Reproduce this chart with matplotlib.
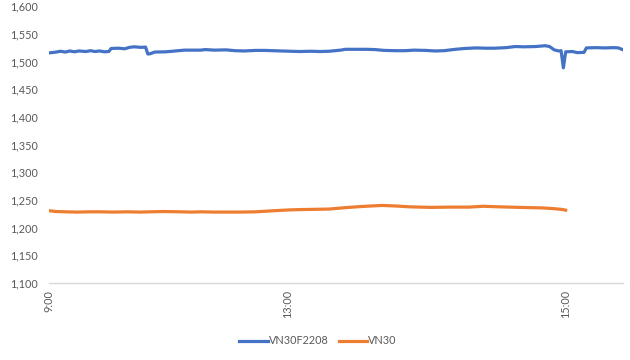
import matplotlib.pyplot as plt
from matplotlib.ticker import FuncFormatter

# category index along the time axis (session order), 9:00 at 0
tick_pos = [0, 104, 225]
tick_labels = ['9:00', '13:00', '15:00']

f_idx = [0, 3, 5, 7, 9, 11, 13, 16, 18, 20, 22, 24, 26, 27, 30, 33, 35, 37, 40, 42,
         43, 44, 46, 51, 55, 59, 66, 68, 72, 77, 81, 85, 90, 94, 101, 105, 109, 114,
         118, 122, 127, 129, 133, 138, 142, 146, 151, 155, 159, 164, 168, 172, 177,
         181, 186, 190, 194, 199, 203, 207, 212, 216, 218, 220, 222, 223, 224, 225,
         228, 230, 233, 234, 238, 242, 246, 248, 250]
vn30f = [1515.5, 1517, 1518.5, 1517, 1519, 1517.5, 1519, 1518, 1519.5, 1518, 1519,
         1517.5, 1518, 1523.5, 1524, 1523, 1525.5, 1526.5, 1525.5, 1526,
         1513.5, 1514, 1517, 1517.5, 1519, 1520.5, 1520.5, 1521.5, 1520.5, 1521,
         1519.5, 1519, 1520, 1520, 1519, 1518.5, 1518, 1518.5, 1518, 1518.5,
         1520.5, 1522, 1522, 1522, 1521.5, 1520, 1519.5, 1519.5, 1520.5, 1520,
         1519, 1519.5, 1522, 1523.5, 1524.5, 1524, 1524, 1525, 1527, 1526.5,
         1527, 1528.5, 1527, 1521, 1519, 1519.5, 1488.5, 1517.5,
         1518, 1516, 1516.5, 1524.5, 1525, 1524.5, 1525, 1524.5, 1521]

s_idx = [0, 3, 7, 12, 18, 22, 28, 34, 40, 44, 50, 57, 62, 66, 72, 78, 83, 90, 94,
         98, 105, 109, 116, 122, 129, 134, 140, 145, 151, 157, 166, 175, 183, 189,
         196, 205, 215, 219, 223, 225]
vn30 = [1230.5, 1229, 1228.5, 1228, 1228.5, 1228.5, 1228, 1228.5, 1228, 1228.5,
        1229, 1228.5, 1228, 1228.5, 1228, 1228, 1228, 1228.5, 1229.5,
        1230.5, 1232, 1232.5, 1233, 1233.5, 1236, 1237.5, 1239, 1240, 1239, 1237.5,
        1236.5, 1237, 1237, 1238.5, 1237.5, 1236.5, 1235.5, 1234.5, 1233, 1231.5]

plt.rcParams['font.family'] = ['Lato', 'DejaVu Sans']
grey = '#595959'

fig = plt.figure(figsize=(6.3, 3.6), dpi=100)
ax = fig.add_axes([0.078, 0.214, 0.911, 0.769])
ax.plot(f_idx, vn30f, color='#4472C4', lw=2.3, label='VN30F2208')
ax.plot(s_idx, vn30, color='#ED7D31', lw=2.3, label='VN30')

ax.set_xlim(0, 250)
ax.set_ylim(1100, 1600)
ax.set_yticks(range(1100, 1601, 50))
ax.yaxis.set_major_formatter(FuncFormatter(lambda v, p: f'{int(v):,}'))
ax.set_xticks(tick_pos)
ax.set_xticklabels(tick_labels, rotation=90, va='top')
ax.tick_params(axis='both', length=0, labelsize=7.8, colors=grey)
ax.tick_params(axis='y', pad=8)
ax.tick_params(axis='x', pad=5)
for s in ['top', 'right', 'left']:
    ax.spines[s].set_visible(False)
ax.spines['bottom'].set_color('#D9D9D9')
ax.spines['bottom'].set_linewidth(1)

fig.legend(loc='center', bbox_to_anchor=(0.505, 0.053), ncol=2, frameon=False,
           fontsize=7.8, labelcolor=grey, handlelength=2.6, columnspacing=1.0,
           handletextpad=0.1)
fig.savefig('out.png', dpi=100)
